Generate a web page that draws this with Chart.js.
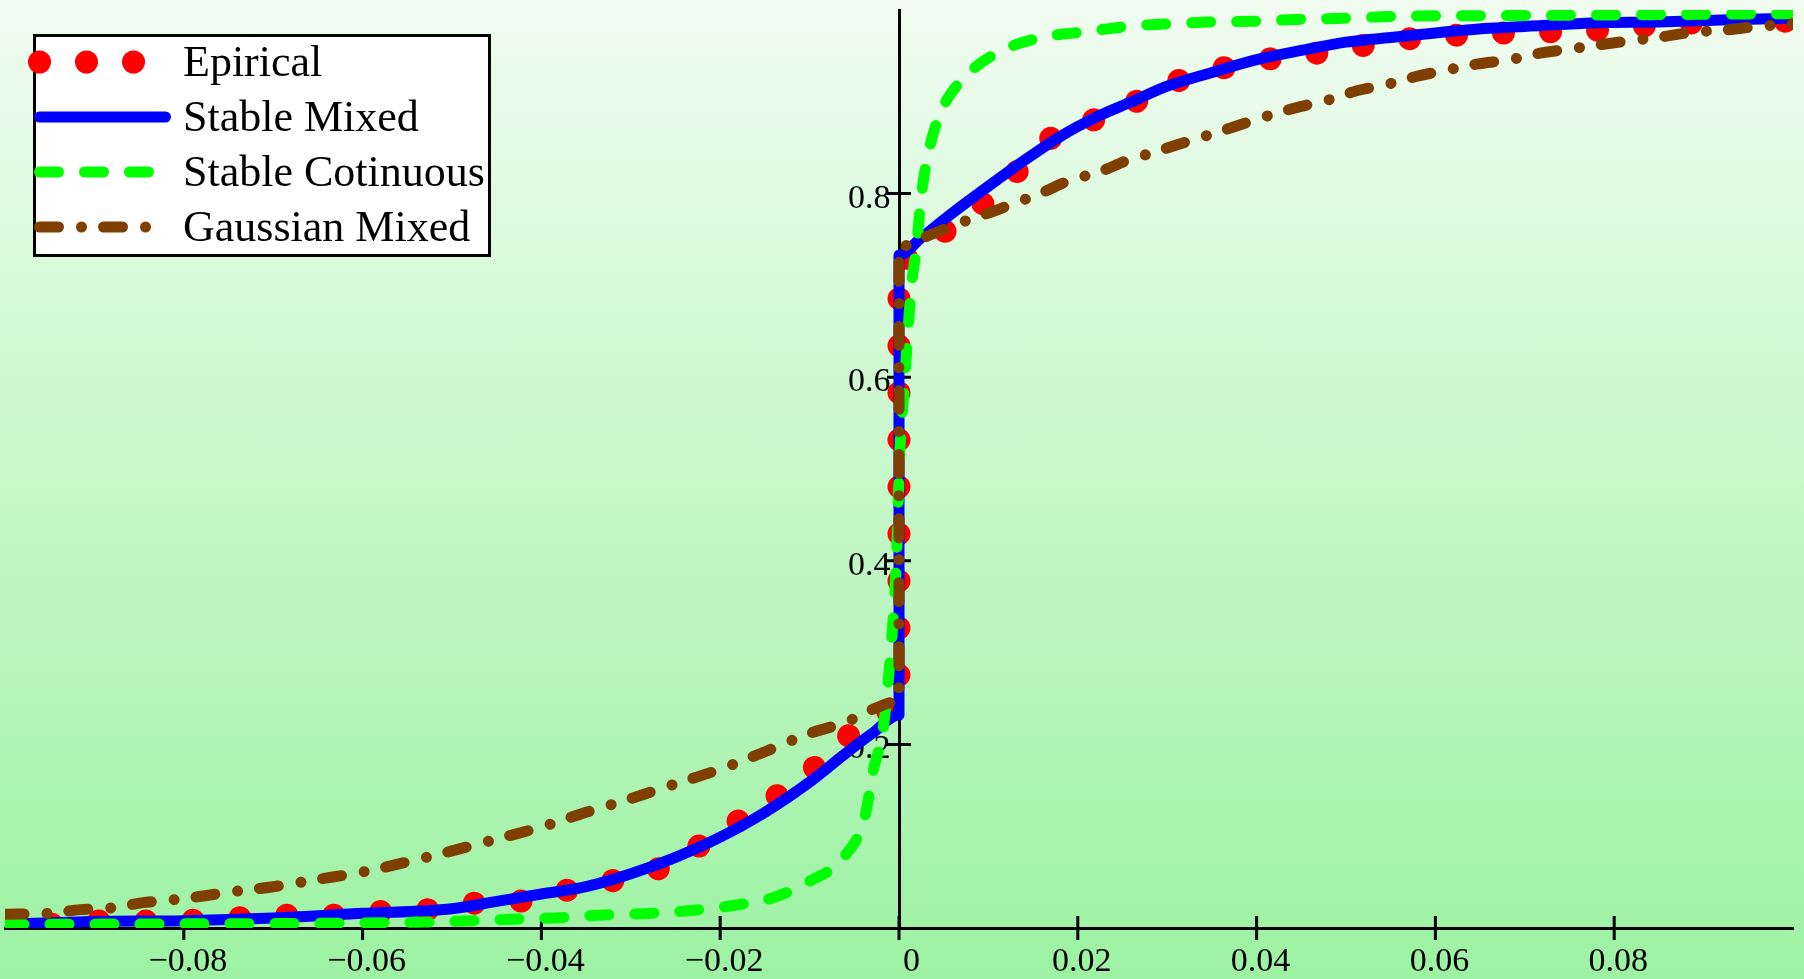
<!DOCTYPE html>
<html>
<head>
<meta charset="utf-8">
<script src="https://cdn.jsdelivr.net/npm/chart.js@4"></script>
<style>
  html, body { margin: 0; padding: 0; }
  body {
    width: 1804px;
    height: 979px;
    overflow: hidden;
    background: linear-gradient(to bottom, #f0fcf0 0%, #9cf2a2 100%);
  }
  canvas { display: block; }
</style>
</head>
<body>
<canvas id="cdfChart" width="1804" height="979"></canvas>
<script>
// tick values on the two axes
const xTicks = [-0.08, -0.06, -0.04, -0.02, 0, 0.02, 0.04, 0.06, 0.08];
const yTicks = [0.2, 0.4, 0.6, 0.8];

const seriesNames = ["Epirical", "Stable Mixed", "Stable Cotinuous", "Gaussian Mixed"];

// Epirical (red dots)
const empiricalX = [-0.1, -0.095, -0.0896, -0.0844, -0.079, -0.074, -0.0687, -0.0634, -0.058, -0.0527,
  -0.0476, -0.0426, -0.0377, -0.0333, -0.0284, -0.0238, -0.0204, -0.0157, -0.0116, -0.0075,
  -0.0044, 0, 0, 0.0053, 0.009, 0.0128, 0.0165, 0.0212, 0.0257, 0.0296,
  0.0348, 0.0395, 0.0445, 0.0495, 0.0546, 0.06, 0.0653, 0.0706, 0.0759, 0.081,
  0.0855, 0.0907, 0.096, 0.1];
const empiricalY = [0.002, 0.004, 0.0076, 0.0076, 0.0084, 0.011, 0.014, 0.014, 0.018, 0.02,
  0.027, 0.029, 0.04, 0.049, 0.06, 0.078, 0.106, 0.127, 0.162, 0.188,
  0.222, 0.237, 0.728, 0.76, 0.786, 0.82, 0.857, 0.878, 0.896, 0.917,
  0.933, 0.944, 0.95, 0.957, 0.966, 0.971, 0.974, 0.976, 0.977, 0.98,
  0.985, 0.986, 0.987, 0.988];

// Stable Mixed (blue)
const stableMixedX = [-0.1, -0.09, -0.08, -0.07, -0.06, -0.05, -0.045, -0.04, -0.035, -0.03,
  -0.025, -0.02, -0.015, -0.01, -0.006, -0.003, 0, 0, 0.0025, 0.006,
  0.01, 0.014, 0.018, 0.022, 0.026, 0.03, 0.035, 0.04, 0.045, 0.05,
  0.055, 0.06, 0.066, 0.072, 0.078, 0.085, 0.092, 0.1];
const stableMixedY = [0.004, 0.007, 0.008, 0.011, 0.016, 0.021, 0.029, 0.037, 0.045, 0.059,
  0.077, 0.099, 0.126, 0.159, 0.19, 0.212, 0.232, 0.733, 0.752, 0.779,
  0.808, 0.836, 0.862, 0.883, 0.9, 0.917, 0.932, 0.946, 0.956, 0.965,
  0.97, 0.975, 0.98, 0.983, 0.986, 0.987, 0.989, 0.991];

// Stable Cotinuous (green dashes)
const stableContX = [-0.1, -0.08, -0.06, -0.0484, -0.0433, -0.0385, -0.0336, -0.0286, -0.0239, -0.0189,
  -0.0141, -0.01, -0.0062, -0.0038, -0.0029, -0.0018, -0.0012, -0.0007, -0.0003, 0.0001,
  0.0006, 0.001, 0.0014, 0.002, 0.0024, 0.0032, 0.0046, 0.0078, 0.012, 0.0165,
  0.0206, 0.0255, 0.0303, 0.0354, 0.0404, 0.045, 0.05, 0.055, 0.07, 0.085, 0.1];
const stableContY = [0.004, 0.0045, 0.0055, 0.0076, 0.0095, 0.011, 0.014, 0.0156, 0.0185, 0.024,
  0.033, 0.051, 0.077, 0.122, 0.171, 0.215, 0.27, 0.33, 0.4, 0.52,
  0.59, 0.65, 0.7, 0.745, 0.79, 0.84, 0.887, 0.931, 0.958, 0.971,
  0.976, 0.982, 0.985, 0.987, 0.988, 0.99, 0.991, 0.993, 0.994, 0.995, 0.996];

// Gaussian Mixed (brown dash-dot)
const gaussMixedX = [-0.1, -0.095, -0.0916, -0.088, -0.0846, -0.08, -0.0745, -0.07, -0.065, -0.06,
  -0.055, -0.05, -0.045, -0.04, -0.035, -0.03, -0.025, -0.02, -0.015, -0.01,
  -0.006, -0.0025, 0, 0, 0.003, 0.0065, 0.0095, 0.0128, 0.016, 0.019,
  0.0225, 0.0255, 0.0285, 0.032, 0.035, 0.0385, 0.042, 0.045, 0.048, 0.0512,
  0.0546, 0.058, 0.061, 0.0646, 0.0684, 0.0717, 0.0754, 0.079, 0.0822, 0.0855,
  0.0889, 0.0922, 0.096, 0.1];
const gaussMixedY = [0.015, 0.016, 0.02, 0.022, 0.0276, 0.032, 0.0396, 0.045, 0.053, 0.061,
  0.072, 0.084, 0.097, 0.11, 0.126, 0.141, 0.157, 0.173, 0.192, 0.212,
  0.224, 0.24, 0.247, 0.742, 0.753, 0.767, 0.777, 0.789, 0.801, 0.814,
  0.824, 0.836, 0.845, 0.856, 0.865, 0.876, 0.887, 0.895, 0.902, 0.912,
  0.919, 0.928, 0.934, 0.941, 0.946, 0.953, 0.958, 0.963, 0.967, 0.971,
  0.976, 0.978, 0.982, 0.985];

const FONT = "'Liberation Serif', 'Times New Roman', serif";

function points(xs, ys) {
  return xs.map((x, i) => ({ x: x, y: ys[i] }));
}

// tick marks crossing the axes, like the original
const crossTicks = {
  id: "crossTicks",
  beforeDatasetsDraw(chart) {
    const { ctx, scales } = chart;
    const x0 = scales.x.getPixelForValue(0);
    const y0 = scales.y.getPixelForValue(0);
    ctx.save();
    ctx.strokeStyle = "#000";
    ctx.lineWidth = 3;
    ctx.beginPath();
    xTicks.forEach(v => {
      const px = scales.x.getPixelForValue(v);
      ctx.moveTo(px, y0 - 12);
      ctx.lineTo(px, y0 + 12);
    });
    yTicks.forEach(v => {
      const py = scales.y.getPixelForValue(v);
      ctx.moveTo(x0 - 12, py);
      ctx.lineTo(x0 + 12, py);
    });
    ctx.stroke();
    ctx.restore();
  }
};

// boxed legend in the top left corner
const boxLegend = {
  id: "boxLegend",
  afterDraw(chart) {
    const ctx = chart.ctx;
    ctx.save();
    ctx.fillStyle = "#fff";
    ctx.fillRect(34.5, 35.5, 455, 220);
    ctx.strokeStyle = "#000";
    ctx.lineWidth = 3;
    ctx.strokeRect(34.5, 35.5, 455, 220);
    const ends = [136, 165.5, 150, 146];
    chart.data.datasets.forEach((ds, i) => {
      const y = 62 + i * 55;
      ctx.beginPath();
      ctx.setLineDash(ds.borderDash || []);
      ctx.lineCap = "round";
      ctx.lineWidth = ds.borderWidth;
      ctx.strokeStyle = ds.borderColor;
      ctx.moveTo(39.5, y);
      ctx.lineTo(ends[i], y);
      ctx.stroke();
      ctx.setLineDash([]);
      ctx.fillStyle = "#000";
      ctx.font = "44px " + FONT;
      ctx.textBaseline = "alphabetic";
      ctx.textAlign = "left";
      ctx.fillText(ds.label, 183, y + 14);
    });
    ctx.restore();
  }
};

const lineStyle = {
  pointRadius: 0,
  fill: false,
  cubicInterpolationMode: "monotone",
  borderCapStyle: "round",
  borderJoinStyle: "round"
};

new Chart(document.getElementById("cdfChart").getContext("2d"), {
  type: "line",
  data: {
    datasets: [
      {
        ...lineStyle,
        label: seriesNames[0],
        data: points(empiricalX, empiricalY),
        borderColor: "#ff0000",
        borderWidth: 23,
        borderDash: [0.01, 47],
        order: 3
      },
      {
        ...lineStyle,
        label: seriesNames[1],
        data: points(stableMixedX, stableMixedY),
        borderColor: "#0000ff",
        borderWidth: 11,
        order: 2
      },
      {
        ...lineStyle,
        label: seriesNames[2],
        data: points(stableContX, stableContY),
        borderColor: "#00ff00",
        borderWidth: 11,
        borderDash: [19, 26],
        order: 1
      },
      {
        ...lineStyle,
        label: seriesNames[3],
        data: points(gaussMixedX, gaussMixedY),
        borderColor: "#7f3f00",
        borderWidth: 11,
        borderDash: [19, 23, 0.01, 22],
        order: 0
      }
    ]
  },
  options: {
    responsive: false,
    animation: false,
    events: [],
    devicePixelRatio: 1,
    layout: {
      padding: { left: 5, right: 11, top: 10, bottom: 51 }
    },
    plugins: {
      legend: { display: false },
      tooltip: { enabled: false }
    },
    scales: {
      x: {
        type: "linear",
        min: -0.1,
        max: 0.1,
        position: { y: 0 },
        grid: { display: false, drawTicks: false },
        border: { display: true, color: "#000", width: 3 },
        afterBuildTicks: scale => { scale.ticks = xTicks.map(v => ({ value: v })); },
        afterFit: scale => { scale.paddingLeft = 0; scale.paddingRight = 0; },
        ticks: {
          autoSkip: false,
          maxRotation: 0,
          padding: 14,
          labelOffset: 4,
          color: "#000",
          font: { family: FONT, size: 34 },
          callback: v => (v === 0 ? "  0" : v.toFixed(2).replace("-", "\u2212"))
        }
      },
      y: {
        type: "linear",
        min: 0,
        max: 1,
        position: { x: 0 },
        grid: { display: false, drawTicks: false },
        border: { display: true, color: "#000", width: 3 },
        afterBuildTicks: scale => { scale.ticks = yTicks.map(v => ({ value: v })); },
        afterFit: scale => { scale.paddingTop = 0; scale.paddingBottom = 0; },
        ticks: {
          autoSkip: false,
          padding: 0,
          labelOffset: 5,
          color: "#000",
          font: { family: FONT, size: 34 },
          callback: v => v.toFixed(1) + " "
        }
      }
    }
  },
  plugins: [crossTicks, boxLegend]
});
</script>
</body>
</html>
